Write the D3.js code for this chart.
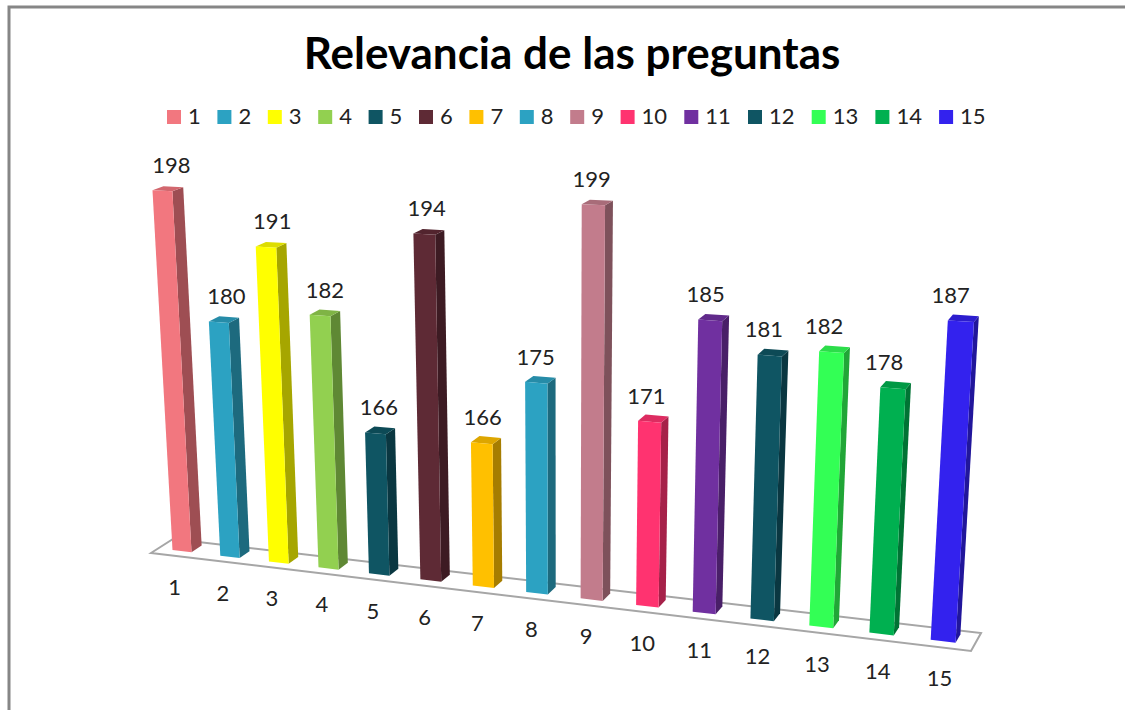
<!DOCTYPE html>
<html>
<head>
<meta charset="utf-8">
<script src="https://cdn.jsdelivr.net/npm/d3@7"></script>
<style>
  body { margin: 0; background: #fff; }
  svg { display: block; }
  text { font-family: Lato, "Open Sans", sans-serif; fill: #222; }
</style>
</head>
<body>
<script>
var categories = ["1", "2", "3", "4", "5", "6", "7", "8", "9", "10", "11", "12", "13", "14", "15"];
var values = [198, 180, 191, 182, 166, 194, 166, 175, 199, 171, 185, 181, 182, 178, 187];
var colors = ["#F2777F", "#2CA2C2", "#FFFF00", "#92D050", "#0F5563", "#5E2A35", "#FFC000", "#2CA2C2",
              "#C27C8C", "#FF3370", "#7030A0", "#0F5563", "#33FF55", "#00B050", "#3322EE"];

var svg = d3.select("body")
    .append("svg")
    .attr("width", 1125)
    .attr("height", 710);

// chart frame, only top and left edges are inside the picture
svg.append("path")
    .attr("d", "M9,710V7H1125")
    .attr("fill", "none")
    .attr("stroke", "#868686")
    .attr("stroke-width", 3);

svg.append("text")
    .attr("x", 572)
    .attr("y", 69)
    .attr("text-anchor", "middle")
    .attr("font-size", "44px")
    .attr("font-weight", "bold")
    .style("fill", "#000")
    .text("Relevancia de las preguntas");

// legend
var legendX = 167;
categories.forEach(function (c, i) {
    svg.append("rect")
        .attr("x", legendX)
        .attr("y", 110)
        .attr("width", 14)
        .attr("height", 14)
        .attr("fill", colors[i]);
    svg.append("text")
        .attr("x", legendX + 21)
        .attr("y", 124)
        .attr("font-size", "22px")
        .text(c);
    legendX += c.length > 1 ? 63.7 : 50.4;
});

// perspective of the 3d floor: corners on screen plus how fast things grow along u and w
var p0 = [151, 553], p1 = [971, 651], p3 = [173, 539];
var g = -0.135, h = 0.0165;
var vanish = [561, 7532];   // where the bar edges meet
var lift = 0.051;

var a = p1[0] * (1 + g) - p0[0], b = p3[0] * (1 + h) - p0[0];
var d = p1[1] * (1 + g) - p0[1], e = p3[1] * (1 + h) - p0[1];

function project(u, v, w) {
    var q = g * u + h * w + 1 - lift * v;
    return [(a * u + b * w + p0[0] - lift * v * vanish[0]) / q,
            (d * u + e * w + p0[1] - lift * v * vanish[1]) / q];
}

var x = d3.scaleBand().domain(categories).range([0, 1]).paddingInner(0.6).paddingOuter(0.3);
var y = d3.scaleLinear().domain([145.5, 200]).range([0, 1]);
var depth = d3.scaleLinear().domain([0, 1]).range([0.33, 0.8]);
var labelShift = d3.scaleLinear().domain([0, 14]).range([5, -12]);

function face(points) {
    return "M" + points.map(function (p) { return project(p[0], p[1], p[2]).join(","); }).join("L") + "Z";
}

svg.append("path")
    .attr("d", face([[0, 0, 0], [1, 0, 0], [1, 0, 1], [0, 0, 1]]))
    .attr("fill", "#fff")
    .attr("stroke", "#a6a6a6")
    .attr("stroke-width", 2);

var bars = svg.selectAll("g.bar")
    .data(values)
    .enter()
    .append("g")
    .attr("class", "bar");

bars.each(function (val, i) {
    var g0 = d3.select(this);
    var u0 = x(categories[i]), u1 = u0 + x.bandwidth();
    var v = y(val), w0 = depth(0), w1 = depth(1);
    var base = d3.color(colors[i]);

    g0.append("path")
        .attr("d", face([[u1, 0, w0], [u1, 0, w1], [u1, v, w1], [u1, v, w0]]))
        .attr("fill", base.darker(1.2));
    g0.append("path")
        .attr("d", face([[u0, v, w0], [u1, v, w0], [u1, v, w1], [u0, v, w1]]))
        .attr("fill", base.darker(0.4));
    g0.append("path")
        .attr("d", face([[u0, 0, w0], [u1, 0, w0], [u1, v, w0], [u0, v, w0]]))
        .attr("fill", base);

    var top = project((u0 + u1) / 2, v, 0.5);
    g0.append("text")
        .attr("x", top[0] + labelShift(i))
        .attr("y", top[1] - 16)
        .attr("text-anchor", "middle")
        .attr("font-size", "22px")
        .text(val);

    var foot = project((u0 + u1) / 2, 0, 0);
    g0.append("text")
        .attr("x", foot[0])
        .attr("y", foot[1] + 39)
        .attr("text-anchor", "middle")
        .attr("font-size", "22px")
        .text(categories[i]);
});
</script>
</body>
</html>
